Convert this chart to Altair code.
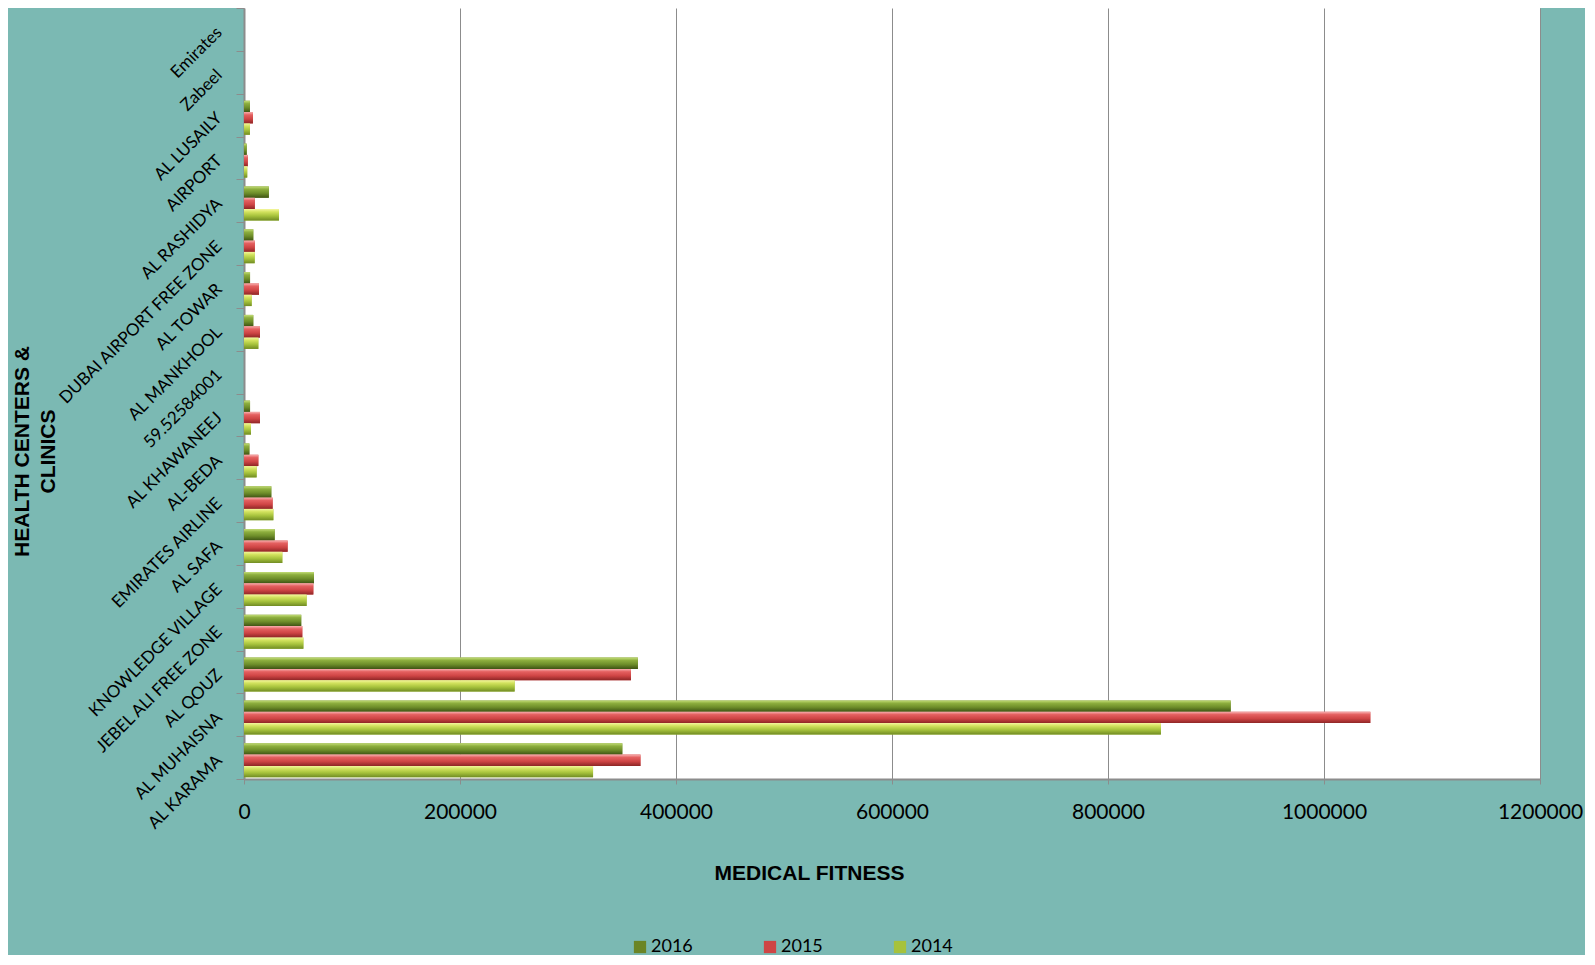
import altair as alt
import pandas as pd

centers = ["Emirates", "Zabeel", "AL LUSAILY", "AIRPORT", "AL RASHIDYA",
           "DUBAI AIRPORT FREE ZONE", "AL TOWAR", "AL MANKHOOL", "59.52584001",
           "AL KHAWANEEJ", "AL-BEDA", "EMIRATES AIRLINE", "AL SAFA",
           "KNOWLEDGE VILLAGE", "JEBEL ALI FREE ZONE", "AL QOUZ", "AL MUHAISNA",
           "AL KARAMA"]
v2016 = [0, 0, 5500, 2500, 23000, 8600, 5600, 8600, 0, 5600, 5000, 25300,
         28400, 64800, 53000, 364700, 913600, 350300]
v2015 = [0, 0, 8300, 3500, 10000, 10000, 13900, 14800, 0, 14800, 13300, 26500,
         40400, 64200, 54000, 358300, 1042900, 367100]
v2014 = [0, 0, 5500, 3000, 32400, 9900, 7100, 13300, 0, 6500, 11700, 27200,
         35500, 58000, 55000, 250600, 849000, 323200]
years = ["2016", "2015", "2014"]
x_ticks = [0, 200000, 400000, 600000, 800000, 1000000, 1200000]

rows = []
for i, c in enumerate(centers):
    for yr, vals in zip(years, [v2016, v2015, v2014]):
        rows.append({"center": c, "year": yr, "value": vals[i]})
df = pd.DataFrame(rows)

solid = ["#6B8526", "#CF4545", "#A6C23C"]
grads = {
    "2016": [("#C4DE78", 0), ("#8DAE3E", 0.25), ("#6E8E2A", 0.6), ("#3F5414", 1)],
    "2015": [("#F8B0B0", 0), ("#E46060", 0.25), ("#CF4545", 0.6), ("#8E2626", 1)],
    "2014": [("#F4F69E", 0), ("#D2E25E", 0.25), ("#A6C23C", 0.6), ("#718C24", 1)],
}

x_enc = alt.X(
    "value:Q",
    scale=alt.Scale(domain=[0, 1200000], nice=False),
    axis=alt.Axis(
        values=x_ticks, format="d", grid=True, gridColor="#8c8c8c", gridWidth=1,
        labelFont="Lato", labelFontSize=21, labelColor="#000000", labelPadding=17,
        labelFlush=False, labelOverlap=False,
        tickSize=5, tickColor="#8c8c8c", domainColor="#8c8c8c", domainWidth=2,
        title="MEDICAL FITNESS", titleFont="Liberation Sans", titleFontSize=21,
        titleFontWeight="bold", titleColor="#000000", titleX=565, titleY=94,
        titleAlign="center", titleBaseline="middle",
    ),
)
y_enc = alt.Y(
    "center:N",
    sort=centers,
    scale=alt.Scale(domain=centers, paddingInner=0, paddingOuter=0),
    axis=alt.Axis(
        labelAngle=315, labelAlign="right", labelBaseline="middle",
        labelFont="Lato", labelFontSize=17, labelColor="#000000",
        labelPadding=17, labelLimit=400, labelOverlap=False,
        tickBand="extent", tickSize=8, tickColor="#8c8c8c",
        domainColor="#8c8c8c", domainWidth=2, grid=False,
        title=["HEALTH CENTERS &", "CLINICS"], titleFont="Liberation Sans",
        titleFontSize=21, titleFontWeight="bold", titleColor="#000000",
        titleAngle=270, titleX=-222, titleY=443, titleAlign="center",
        titleBaseline="middle", titleLineHeight=26,
    ),
)
yoff_enc = alt.YOffset(
    "year:N",
    scale=alt.Scale(domain=years, paddingInner=0, paddingOuter=0.39, align=0.8),
)

base = alt.Chart(df)

legend_layer = base.mark_bar().encode(
    x=x_enc, y=y_enc, yOffset=yoff_enc,
    color=alt.Color(
        "year:N",
        scale=alt.Scale(domain=years, range=solid),
        legend=alt.Legend(
            title=None, orient="none", direction="horizontal",
            legendX=387, legendY=930, symbolType="square", symbolSize=150,
            symbolStrokeWidth=0, labelFont="Lato", labelFontSize=18,
            labelColor="#000000", labelOffset=2, columnPadding=68, padding=0,
        ),
    ),
)

layers = [legend_layer]
for yr in years:
    g = alt.Gradient(
        gradient="linear",
        stops=[alt.GradientStop(color=c, offset=o) for c, o in grads[yr]],
        x1=0, x2=0, y1=0, y2=1,
    )
    layers.append(
        base.transform_filter(alt.datum.year == yr)
        .mark_bar(color=g)
        .encode(x=x_enc, y=y_enc, yOffset=yoff_enc)
    )

chart = (
    alt.layer(*layers)
    .properties(
        width=1296, height=771,
        background="#7BB9B3",
        autosize=alt.AutoSizeParams(type="none"),
        padding={"left": 236, "top": 0, "right": 45, "bottom": 176},
    )
    .configure_view(stroke=None, fill="white")
)

chart.save("out.html", embed_options={"renderer": "svg", "actions": False})
